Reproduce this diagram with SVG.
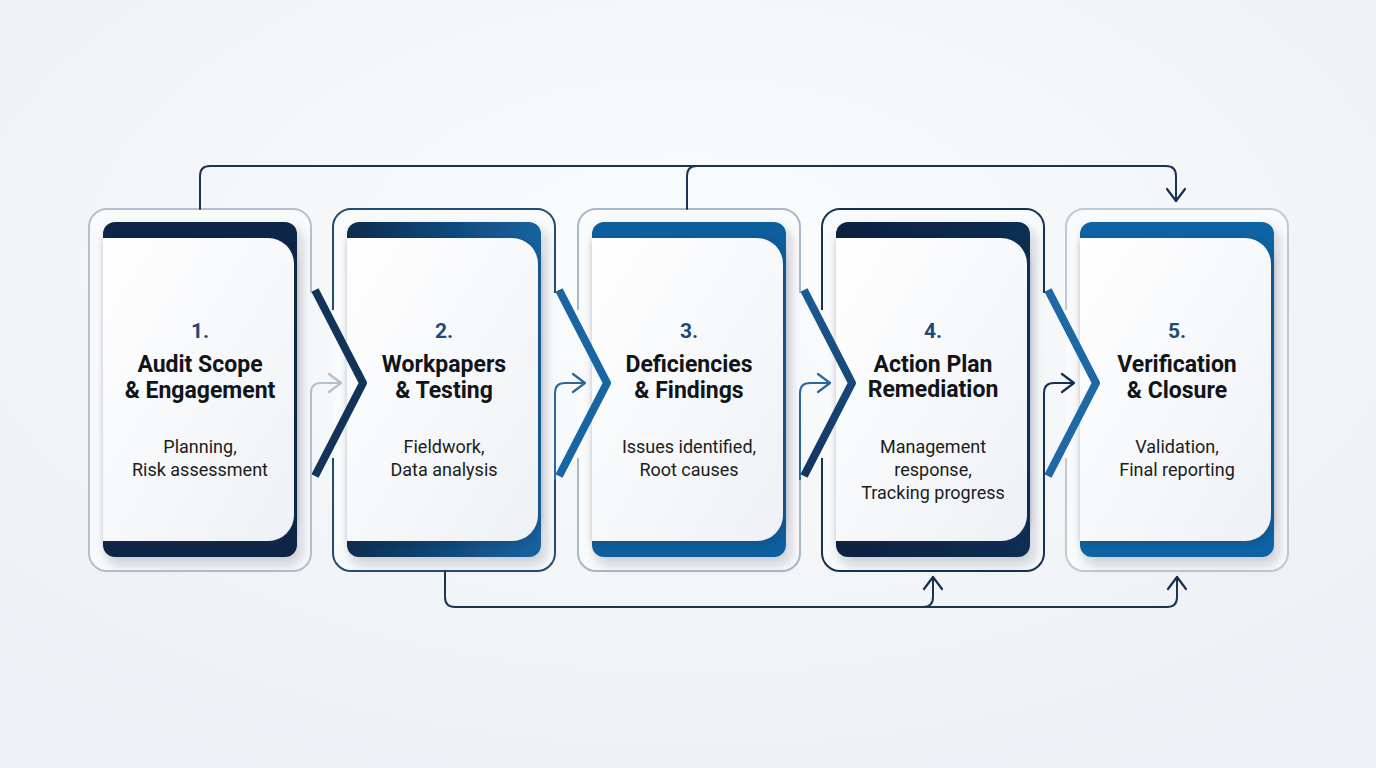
<svg xmlns="http://www.w3.org/2000/svg" width="1376" height="768" viewBox="0 0 1376 768">
<defs>
<radialGradient id="bg" cx="50%" cy="35%" r="75%">
<stop offset="0" stop-color="#fbfcfd"/><stop offset="1" stop-color="#eceff3"/>
</radialGradient>
<linearGradient id="face" x1="0" y1="0" x2="1" y2="1">
<stop offset="0" stop-color="#ffffff"/><stop offset="1" stop-color="#eef1f5"/>
</linearGradient>
<linearGradient id="p2" x1="0" y1="0" x2="1" y2="0">
<stop offset="0" stop-color="#0c2c50"/><stop offset="1" stop-color="#1563a2"/>
</linearGradient>
<linearGradient id="p4" x1="0" y1="0" x2="1" y2="0">
<stop offset="0" stop-color="#08213f"/><stop offset="1" stop-color="#0f2e54"/>
</linearGradient>
<linearGradient id="ul" x1="0" y1="0" x2="1" y2="0">
<stop offset="0" stop-color="#1d3f66"/><stop offset="1" stop-color="#2f72ab"/>
</linearGradient>
<linearGradient id="ch34" x1="0" y1="0" x2="0" y2="1">
<stop offset="0" stop-color="#1b5b95"/><stop offset="1" stop-color="#12345c"/>
</linearGradient>
<filter id="sh" x="-20%" y="-20%" width="150%" height="150%">
<feDropShadow dx="4" dy="7" stdDeviation="6" flood-color="#1b2b3c" flood-opacity="0.22"/>
</filter>
<filter id="fsh" x="-20%" y="-20%" width="150%" height="150%">
<feDropShadow dx="2" dy="2" stdDeviation="3" flood-color="#1b2b3c" flood-opacity="0.3"/>
</filter>
<marker id="ah" viewBox="-14 -11 16 22" markerWidth="16" markerHeight="22" refX="0" refY="0" orient="auto" markerUnits="userSpaceOnUse">
<path d="M-12,-9 L0,0 L-12,9" fill="none" stroke="context-stroke" stroke-width="2.2" stroke-linecap="round" stroke-linejoin="round"/>
</marker>
<marker id="ahN" viewBox="-14 -11 16 22" markerWidth="16" markerHeight="22" refX="0" refY="0" orient="auto" markerUnits="userSpaceOnUse">
<path d="M-12,-9 L0,0 L-12,9" fill="none" stroke="#16304f" stroke-width="2.2" stroke-linecap="round" stroke-linejoin="round"/>
</marker>
<marker id="ahG" viewBox="-14 -11 16 22" markerWidth="16" markerHeight="22" refX="0" refY="0" orient="auto" markerUnits="userSpaceOnUse">
<path d="M-12,-9 L0,0 L-12,9" fill="none" stroke="#b3bfcb" stroke-width="2.2" stroke-linecap="round" stroke-linejoin="round"/>
</marker>
<marker id="ahB" viewBox="-14 -11 16 22" markerWidth="16" markerHeight="22" refX="0" refY="0" orient="auto" markerUnits="userSpaceOnUse">
<path d="M-12,-9 L0,0 L-12,9" fill="none" stroke="#2b679b" stroke-width="2.2" stroke-linecap="round" stroke-linejoin="round"/>
</marker>
</defs>
<style>
text{font-family:Roboto,"Liberation Sans",Arial,sans-serif;text-anchor:middle}
.num{font-size:21px;font-weight:700;fill:#1f4a75}
.ttl{font-size:23px;font-weight:700;fill:#111418}
.dsc{font-size:18px;fill:#1b1d20}
.frm{fill:none;stroke-width:2}
.bg{fill:#f9fafb}
.face{fill:url(#face);filter:url(#fsh)}
.ul{stroke:url(#ul);stroke-width:3}
.con{fill:none;stroke:#1a3552;stroke-width:2;stroke-linecap:round;stroke-linejoin:round}
.arr{fill:none;stroke-width:2;stroke-linejoin:round}
.chev{fill:none;stroke-width:8;stroke-linejoin:round}
</style>
<rect width="1376" height="768" fill="url(#bg)"/>

<g id="card1">
<rect class="bg" x="89" y="209" width="222" height="362" rx="18"/>
<path class="frm" stroke="#b6c0ca" d="M311,293 V227 A18,18 0 0 0 293,209 H107 A18,18 0 0 0 89,227 V553 A18,18 0 0 0 107,571 H293 A18,18 0 0 0 311,553 V473"/>
<rect x="103" y="222" width="194" height="335" rx="12" fill="#0b2747" filter="url(#sh)"/>
<path class="face" d="M103,238 H268 A26,26 0 0 1 294,264 V515 A26,26 0 0 1 268,541 H103 Z"/>
<text class="num" x="200" y="338">1.</text>
<text class="ttl" x="200" y="372">Audit Scope</text>
<text class="ttl" x="200" y="398">&amp; Engagement</text>
<line class="ul" x1="180" y1="415" x2="220" y2="415"/>
<text class="dsc" x="200" y="453">Planning,</text>
<text class="dsc" x="200" y="476">Risk assessment</text>
</g>

<g id="card2">
<rect class="bg" x="333" y="209" width="222" height="362" rx="18"/>
<path class="frm" stroke="#234d73" d="M333,310 V227 A18,18 0 0 1 351,209 H537 A18,18 0 0 1 555,227 V293 M333,458 V553 A18,18 0 0 0 351,571 H537 A18,18 0 0 0 555,553 V473"/>
<rect x="347" y="222" width="194" height="335" rx="12" fill="url(#p2)" filter="url(#sh)"/>
<path class="face" d="M347,238 H512 A26,26 0 0 1 538,264 V515 A26,26 0 0 1 512,541 H347 Z"/>
<text class="num" x="444" y="338">2.</text>
<text class="ttl" x="444" y="372">Workpapers</text>
<text class="ttl" x="444" y="398">&amp; Testing</text>
<line class="ul" x1="424" y1="415" x2="464" y2="415"/>
<text class="dsc" x="444" y="453">Fieldwork,</text>
<text class="dsc" x="444" y="476">Data analysis</text>
</g>

<g id="card3">
<rect class="bg" x="578" y="209" width="222" height="362" rx="18"/>
<path class="frm" stroke="#a9b8c6" d="M578,310 V227 A18,18 0 0 1 596,209 H782 A18,18 0 0 1 800,227 V293 M578,458 V553 A18,18 0 0 0 596,571 H782 A18,18 0 0 0 800,553 V473"/>
<rect x="592" y="222" width="194" height="335" rx="12" fill="#0f5f9e" filter="url(#sh)"/>
<path class="face" d="M592,238 H757 A26,26 0 0 1 783,264 V515 A26,26 0 0 1 757,541 H592 Z"/>
<text class="num" x="689" y="338">3.</text>
<text class="ttl" x="689" y="372">Deficiencies</text>
<text class="ttl" x="689" y="398">&amp; Findings</text>
<line class="ul" x1="669" y1="415" x2="709" y2="415"/>
<text class="dsc" x="689" y="453">Issues identified,</text>
<text class="dsc" x="689" y="476">Root causes</text>
</g>

<g id="card4">
<rect class="bg" x="822" y="209" width="222" height="362" rx="18"/>
<path class="frm" stroke="#17324f" d="M822,310 V227 A18,18 0 0 1 840,209 H1026 A18,18 0 0 1 1044,227 V293 M822,458 V553 A18,18 0 0 0 840,571 H1026 A18,18 0 0 0 1044,553 V473"/>
<rect x="836" y="222" width="194" height="335" rx="12" fill="url(#p4)" filter="url(#sh)"/>
<path class="face" d="M836,238 H1001 A26,26 0 0 1 1027,264 V515 A26,26 0 0 1 1001,541 H836 Z"/>
<text class="num" x="933" y="338">4.</text>
<text class="ttl" x="933" y="372">Action Plan</text>
<text class="ttl" x="933" y="397">Remediation</text>
<line class="ul" x1="913" y1="415" x2="953" y2="415"/>
<text class="dsc" x="933" y="453">Management</text>
<text class="dsc" x="933" y="476">response,</text>
<text class="dsc" x="933" y="499">Tracking progress</text>
</g>

<g id="card5">
<rect class="bg" x="1066" y="209" width="222" height="362" rx="18"/>
<path class="frm" stroke="#c2c9d1" d="M1066,310 V227 A18,18 0 0 1 1084,209 H1270 A18,18 0 0 1 1288,227 V553 A18,18 0 0 1 1270,571 H1084 A18,18 0 0 1 1066,553 V458"/>
<rect x="1080" y="222" width="194" height="335" rx="12" fill="#1064a3" filter="url(#sh)"/>
<path class="face" d="M1080,238 H1245 A26,26 0 0 1 1271,264 V515 A26,26 0 0 1 1245,541 H1080 Z"/>
<text class="num" x="1177" y="338">5.</text>
<text class="ttl" x="1177" y="372">Verification</text>
<text class="ttl" x="1177" y="398">&amp; Closure</text>
<line class="ul" x1="1157" y1="415" x2="1197" y2="415"/>
<text class="dsc" x="1177" y="453">Validation,</text>
<text class="dsc" x="1177" y="476">Final reporting</text>
</g>

<g id="connectors">
<path class="chev" stroke="#123459" d="M315,290 L363,383 L315,476"/>
<path class="chev" stroke="#1765a3" d="M559,290 L607,383 L559,476"/>
<path class="chev" stroke="url(#ch34)" d="M804,290 L852,383 L804,476"/>
<path class="chev" stroke="#1e68a5" d="M1048,290 L1096,383 L1048,476"/>
<path class="arr" stroke="#b3bfcb" d="M311,480 V393 Q311,383 321,383 H341" marker-end="url(#ahG)"/>
<path class="arr" stroke="#2b679b" d="M555,480 V393 Q555,383 565,383 H585" marker-end="url(#ahB)"/>
<path class="arr" stroke="#2b679b" d="M800,480 V393 Q800,383 810,383 H830" marker-end="url(#ahB)"/>
<path class="arr" stroke="#16304f" d="M1044,480 V393 Q1044,383 1054,383 H1074" marker-end="url(#ahN)"/>
<path class="con" d="M200,209 V176 Q200,166 210,166 H1166 Q1176,166 1176,176 V201" marker-end="url(#ahN)"/>
<path class="con" d="M687,209 V176 Q687,166 697,166"/>
<path class="con" d="M445,571 V597 Q445,607 455,607 H1167 Q1177,607 1177,597 V577" marker-end="url(#ahN)"/>
<path class="con" d="M923,607 Q933,607 933,597 V577" marker-end="url(#ahN)"/>
</g>
</svg>
